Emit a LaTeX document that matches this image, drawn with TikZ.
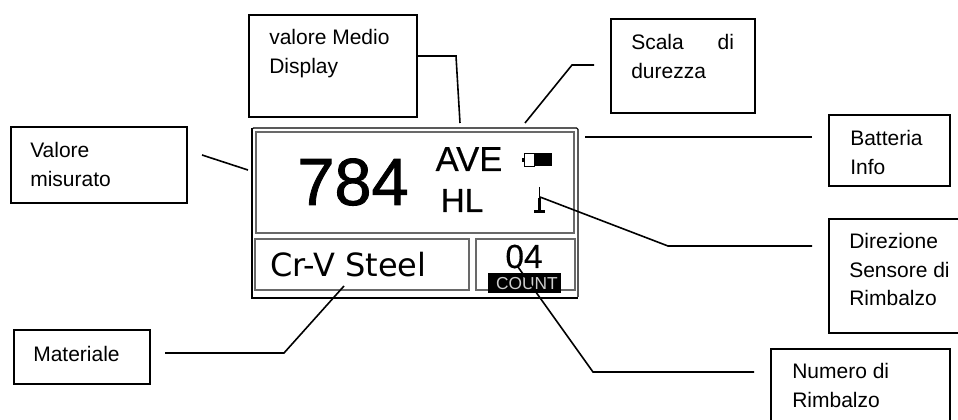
\documentclass[tikz,border=0pt]{standalone}
\usepackage{fontspec}
\setmainfont{Liberation Sans}
\newfontfamily\lcdfont{DejaVu Sans}
\newfontfamily\heavyfont[FakeBold=1.2]{Liberation Sans}
\newfontfamily\midfont[FakeBold=0.4]{Liberation Sans}
\usetikzlibrary{positioning}
\definecolor{PanelGray}{RGB}{105,105,105}
\definecolor{CountGray}{RGB}{205,205,205}

\tikzset{
	labelbox/.style 2 args={draw, line width=1.3pt, anchor=north west, inner sep=0pt,
		minimum width=#1*0.75pt, minimum height=#2*0.75pt},
	labeltext/.style={anchor=north west, inner sep=0pt, align=left,
		font=\fontsize{15.75}{21.4}\selectfont},
	leader/.style={line width=1.2pt},
	panel/.style={draw=PanelGray, line width=0.9pt},
	lcd/.style={inner sep=0pt, anchor=base}
}

\begin{document}
\begin{tikzpicture}[x=0.75pt, y=-0.75pt]
	\useasboundingbox (0,0) rectangle (958,420);

	% caselle delle etichette
	\node[labelbox={168}{102}] (boxMedio) at (248,14) {};
	\node[labelbox={176}{76}] (boxMisurato) at (10,126) {};
	\node[labelbox={144}{94}] (boxScala) at (610,18) {};
	\node[labelbox={121}{71}] (boxBatteria) at (828,114) {};
	\node[labelbox={140}{114}] (boxDirezione) at (828,218) {};
	\node[labelbox={179}{90}] (boxNumero) at (770,348) {};
	\node[labelbox={136}{54}] (boxMateriale) at (13,329) {};

	\node[labeltext] (txtMedio) at (269,29) {valore Medio\\Display};
	\node[labeltext] (txtMisurato) at (30,142) {Valore\\misurato};
	\node[labeltext, text width=77pt] (txtScala) at (631,34) {Scala\hfill di\\durezza};
	\node[labeltext] (txtBatteria) at (850,130) {Batteria\\Info};
	\node[labeltext] (txtDirezione) at (849,233) {Direzione\\Sensore di\\Rimbalzo};
	\node[labeltext] (txtNumero) at (792,363) {Numero di\\Rimbalzo};
	\node[labeltext] (txtMateriale) at (33,346) {Materiale};

	% display
	\draw[line width=0.8pt, rounded corners=1pt] (252,297) -- (252,128) -- (578,128) -- (578,297);
	\draw[line width=1.7pt] (252,128) -- (252,298) -- (578,298);
	\draw[panel] (256,132) rectangle (574,233);
	\draw[panel] (255,239) rectangle (469,290);
	\draw[panel] (476,239) rectangle (575,290);

	\node[lcd, font=\heavyfont\fontsize{50}{50}\selectfont] (valore) at (353,205) {784};
	\node[lcd, font=\midfont\fontsize{26}{26}\selectfont] (ave) at (469,171) {AVE};
	\node[lcd, font=\midfont\fontsize{25}{25}\selectfont] (hl) at (462,212) {HL};
	\node[lcd, anchor=base west, font=\lcdfont\fontsize{24}{24}\selectfont] (steel) at (270,277) {Cr-V Steel};
	\node[lcd, font=\midfont\fontsize{25}{25}\selectfont] (conta) at (524,268) {04};
	\fill (488,273) rectangle (561,293);
	\node[lcd, text=CountGray, font=\fontsize{13}{13}\selectfont] (count) at (527,290) {COUNT};

	% batteria
	\draw[line width=0.7pt] (524,153.5) rectangle (534,166);
	\fill (534,153) rectangle (552,166.5);
	\fill (522,158) rectangle (524,162);

	% sensore
	\draw[line width=0.8pt] (539.5,187) -- (539.5,198);
	\fill (538,198) rectangle (541,210);
	\fill (534,210) rectangle (545,213);

	% linee di richiamo
	\coordinate (startMisurato) at (202,155);
	\coordinate (endMisurato) at (248,170);
	\coordinate (startMedio) at (416,56);
	\coordinate (kneeMedio) at (456,56);
	\coordinate (endMedio) at (460,123);
	\coordinate (startScala) at (594,65);
	\coordinate (kneeScala) at (572,65);
	\coordinate (endScala) at (525,123);
	\coordinate (startBatteria) at (812,137);
	\coordinate (endBatteria) at (585,137);
	\coordinate (startDirezione) at (812,246);
	\coordinate (kneeDirezione) at (668,246);
	\coordinate (endDirezione) at (540,197);
	\coordinate (startNumero) at (754,372);
	\coordinate (kneeNumero) at (593,372);
	\coordinate (endNumero) at (518,267);
	\coordinate (startMateriale) at (165,353);
	\coordinate (kneeMateriale) at (284,353);
	\coordinate (endMateriale) at (344,286);

	\draw[leader] (startMisurato) -- (endMisurato);
	\draw[leader] (startMedio) -- (kneeMedio) -- (endMedio);
	\draw[leader] (startScala) -- (kneeScala) -- (endScala);
	\draw[leader] (startBatteria) -- (endBatteria);
	\draw[leader] (startDirezione) -- (kneeDirezione) -- (endDirezione);
	\draw[leader] (startNumero) -- (kneeNumero) -- (endNumero);
	\draw[leader] (startMateriale) -- (kneeMateriale) -- (endMateriale);
\end{tikzpicture}
\end{document}
